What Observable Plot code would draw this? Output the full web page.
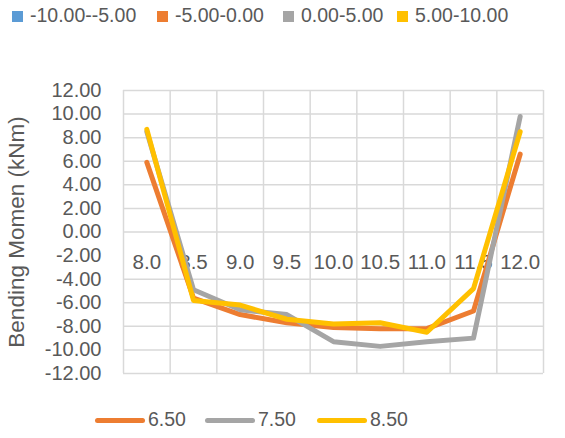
<!DOCTYPE html>
<html><head><meta charset="utf-8">
<script src="https://cdn.jsdelivr.net/npm/d3@7"></script>
<script src="https://cdn.jsdelivr.net/npm/@observablehq/plot@0.6"></script>
<style>
body{margin:0;background:#fff;font-family:"Liberation Sans",Arial,sans-serif;color:#595959;}
#wrap{position:relative;width:565px;height:438px;overflow:hidden;background:#fff}
.item{position:absolute;display:flex;align-items:center;font-size:19.5px;white-space:nowrap;line-height:1;height:24px}
.sq{display:inline-block;width:11px;height:11px;margin-right:7px}
.ln{display:inline-block;width:50px;height:5px;border-radius:3px;margin-right:3px}
#chart{position:absolute;left:0;top:50px}
</style></head><body><div id="wrap"><div id="chart"></div></div>
<script>
// ---- data ----
const categories = ["8.0", "8.5", "9.0", "9.5", "10.0", "10.5", "11.0", "11.5", "12.0"];
const s650 = [5.9, -5.6, -7.0, -7.7, -8.1, -8.2, -8.2, -6.7, 6.6];
const s750 = [8.5, -4.9, -6.6, -7.0, -9.3, -9.7, -9.3, -9.0, 9.8];
const s850 = [8.7, -5.8, -6.2, -7.4, -7.8, -7.7, -8.5, -4.8, 8.5];
const seriesNames = ["6.50", "7.50", "8.50"];
const seriesColors = ["#ED7D31", "#A5A5A5", "#FFC000"];
const bandNames = ["-10.00--5.00", "-5.00-0.00", "0.00-5.00", "5.00-10.00"];
const bandColors = ["#5B9BD5", "#ED7D31", "#A5A5A5", "#FFC000"];
const yTicks = [-12, -10, -8, -6, -4, -2, 0, 2, 4, 6, 8, 10, 12];
const yTitle = "Bending Momen (kNm)";

const wrap = document.getElementById("wrap");
// top legend
const topLeft = [12, 157, 283, 397];
bandNames.forEach((n, i) => {
  const d = document.createElement("div");
  d.className = "item";
  d.style.left = topLeft[i] + "px";
  d.style.top = "4px";
  d.innerHTML = `<span class="sq" style="background:${bandColors[i]}"></span>${n}`;
  wrap.appendChild(d);
});
// bottom legend
const botLeft = [95, 205, 317];
seriesNames.forEach((n, i) => {
  const d = document.createElement("div");
  d.className = "item";
  d.style.left = botLeft[i] + "px";
  d.style.top = "408px";
  d.innerHTML = `<span class="ln" style="background:${seriesColors[i]}"></span>${n}`;
  wrap.appendChild(d);
});

const series = [s650, s750, s850];
const rows = [];
series.forEach((s, k) => s.forEach((v, i) => rows.push({i: i + 0.5, v, name: seriesNames[k]})));
const catRows = categories.map((c, i) => ({i: i + 0.5, c}));

const chart = Plot.plot({
  width: 565,
  height: 345,
  marginLeft: 123,
  marginRight: 22,
  marginTop: 40,
  marginBottom: 22,
  style: {fontFamily: "Liberation Sans, Arial, sans-serif", color: "#595959", background: "transparent"},
  x: {domain: [0, categories.length], axis: null},
  y: {domain: [-12, 12]},
  color: {domain: seriesNames, range: seriesColors},
  marks: [
    Plot.ruleY(yTicks.filter(t => t !== -2), {stroke: "#d9d9d9", strokeWidth: 1.5}),
    Plot.ruleX(d3.range(categories.length + 1), {y1: -12, y2: 12, stroke: "#d9d9d9", strokeWidth: 1.5}),
    Plot.text(catRows, {x: "i", y: -2.55, text: "c", fontSize: 20.5, fill: "#595959"}),
    Plot.lineY(rows, {x: "i", y: "v", z: "name", stroke: "name", strokeWidth: 5, strokeLinecap: "round", strokeLinejoin: "round"}),
    Plot.axisY({ticks: yTicks, tickFormat: d => d.toFixed(2), tickSize: 0, tickPadding: 22, fontSize: 20, fill: "#595959", label: null}),
    Plot.text([yTitle], {frameAnchor: "left", textAnchor: "middle", rotate: -90, dx: -107, fontSize: 22.5, fill: "#595959"})
  ]
});
document.getElementById("chart").appendChild(chart);
</script>
</body></html>
